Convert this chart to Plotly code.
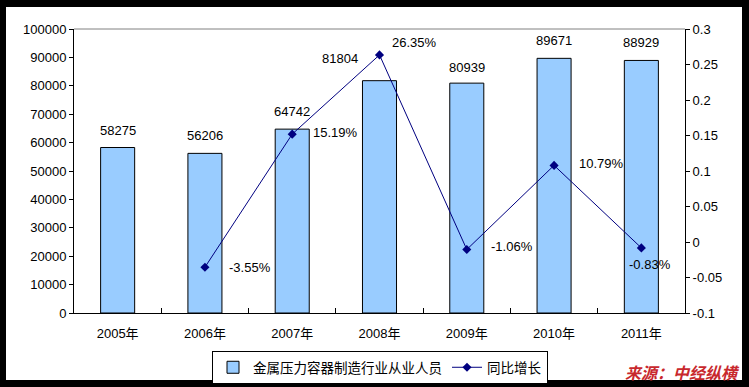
import plotly.graph_objects as go

years = ["2005年", "2006年", "2007年", "2008年", "2009年", "2010年", "2011年"]
employees = [58275, 56206, 64742, 81804, 80939, 89671, 88929]
growth = [None, -0.0355, 0.1519, 0.2635, -0.0106, 0.1079, -0.0083]
growth_labels = ["", "-3.55%", "15.19%", "26.35%", "-1.06%", "10.79%", "-0.83%"]
y2_tickvals = [-0.1, -0.05, 0, 0.05, 0.1, 0.15, 0.2, 0.25, 0.3]
y2_ticktext = ["-0.1", "-0.05", "0", "0.05", "0.1", "0.15", "0.2", "0.25", "0.3"]
bar_name = "金属压力容器制造行业从业人员"
line_name = "同比增长"
source_text = "来源：中经纵横"

# label placement (pixel offsets), presentation only
bar_label_shift = [(0, 8), (0, 8), (0, 8), (-40, 13), (0, 6), (0, 8), (0, 8)]
line_label_shift = [None, (22, 0), (19, 2), (10, 12), (22, 3), (23, 2), (-14, -17)]

FONT = "Liberation Sans, Arial, Noto Sans CJK SC, sans-serif"
CJK = "Noto Sans CJK SC, sans-serif"

W, H = 749, 387
L, R, T, B = 74, 64, 29, 74
pw, ph = W - L - R, H - T - B


def px_x(p):
    return (p - L) / pw


def px_y(p):
    return (H - B - p) / ph


fig = go.Figure()
fig.add_trace(go.Bar(
    x=years, y=employees, name=bar_name, width=0.39,
    marker=dict(color="#99CCFF", line=dict(color="black", width=1)),
    yaxis="y",
))
fig.add_trace(go.Scatter(
    x=years, y=growth, name=line_name, mode="lines+markers",
    line=dict(color="#000080", width=1),
    marker=dict(symbol="diamond", size=7, color="#000080"),
    yaxis="y2", connectgaps=False,
))

annotations = []
for i, (yr, v) in enumerate(zip(years, employees)):
    dx, dy = bar_label_shift[i]
    annotations.append(dict(
        x=yr, y=v, xref="x", yref="y", text=str(v), showarrow=False,
        xanchor="center", yanchor="bottom", xshift=dx, yshift=dy,
        font=dict(family=FONT, size=13, color="black"),
    ))
for i, (yr, g) in enumerate(zip(years, growth)):
    if g is None:
        continue
    dx, dy = line_label_shift[i]
    annotations.append(dict(
        x=yr, y=g, xref="x", yref="y2", text=growth_labels[i], showarrow=False,
        xanchor="left", yanchor="middle", xshift=dx, yshift=dy,
        font=dict(family=FONT, size=13, color="black"),
    ))
annotations.append(dict(
    x=px_x(742), y=px_y(372), xref="paper", yref="paper",
    text="<b><i>" + source_text + "</i></b>",
    showarrow=False, xanchor="right", yanchor="middle",
    font=dict(family=CJK, size=16, color="#C8282D"),
))

shapes = [
    dict(type="rect", xref="paper", yref="paper", layer="below",
         x0=px_x(6), x1=px_x(742), y0=px_y(380), y1=px_y(7),
         fillcolor="white", line=dict(width=0)),
    dict(type="line", xref="paper", yref="paper",
         x0=0, x1=1, y0=1, y1=1, line=dict(color="#808080", width=1)),
]

fig.update_layout(
    width=W, height=H, autosize=False,
    margin=dict(l=L, r=R, t=T, b=B, pad=0, autoexpand=False),
    paper_bgcolor="black", plot_bgcolor="white",
    font=dict(family=FONT, size=13, color="black"),
    showlegend=True,
    legend=dict(
        orientation="h", x=px_x(380), xanchor="center", y=px_y(351), yanchor="top",
        bgcolor="white", bordercolor="black", borderwidth=1,
        font=dict(family=CJK, size=13.5, color="black"),
        itemwidth=30,
    ),
    xaxis=dict(
        type="category", showline=True, linecolor="black", linewidth=1,
        ticks="inside", tickson="boundaries", ticklen=5, tickcolor="black",
        showgrid=False, ticklabelstandoff=8,
        tickfont=dict(family=FONT, size=13, color="black"),
    ),
    yaxis=dict(
        range=[0, 100000], dtick=10000, tickformat="d",
        showline=True, linecolor="black", linewidth=1,
        ticks="outside", ticklen=4, tickcolor="black", showgrid=False,
        zeroline=False, tickfont=dict(family=FONT, size=13, color="black"),
    ),
    yaxis2=dict(
        range=[-0.1, 0.3], overlaying="y", side="right",
        tickvals=y2_tickvals, ticktext=y2_ticktext,
        showline=True, linecolor="black", linewidth=1,
        ticks="outside", ticklen=4, tickcolor="black", showgrid=False,
        zeroline=False, tickfont=dict(family=FONT, size=13, color="black"),
    ),
    annotations=annotations,
    shapes=shapes,
)

fig.write_html(
    "out.html",
    config={"displayModeBar": False},
    post_script="document.body.style.margin='0';document.body.style.overflow='hidden';",
)
